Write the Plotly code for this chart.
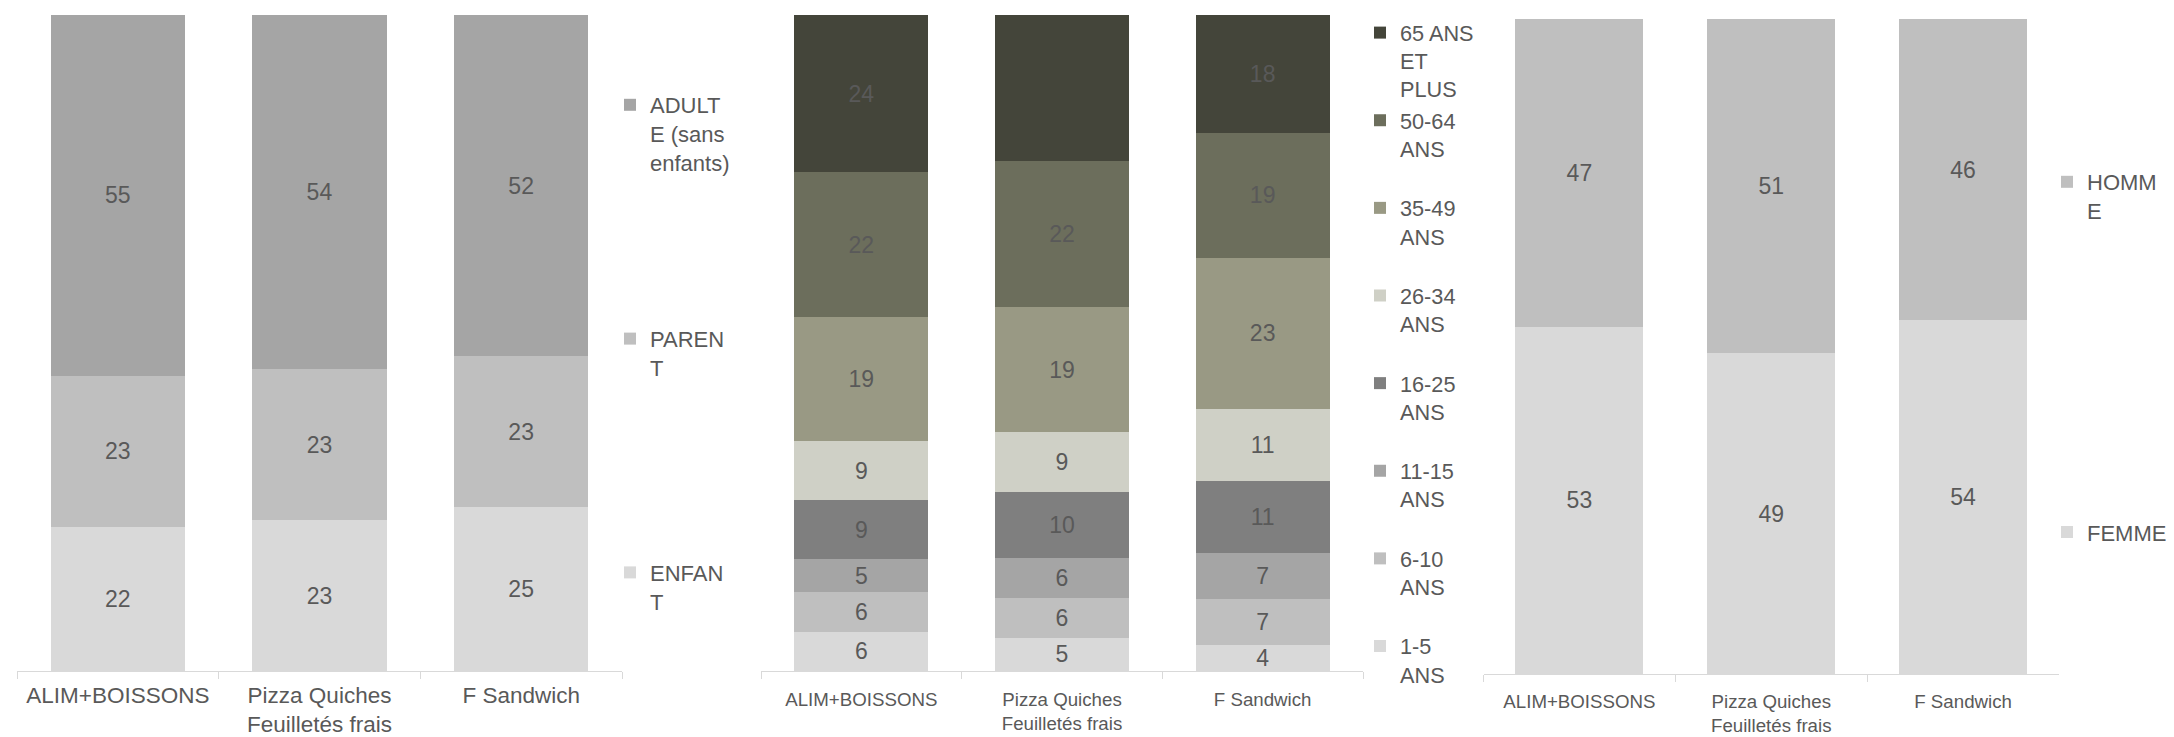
import plotly.graph_objects as go

# ---------------- data ----------------
categories = ["ALIM+BOISSONS", "Pizza Quiches<br>Feuilletés frais", "F Sandwich"]

# Panel 1 : profil foyer
enfant = [22, 23, 25]
parent = [23, 23, 23]
adulte = [55, 54, 52]
names_p1 = ["ENFAN<br>T<br>\u00a0", "PAREN<br>T<br>\u00a0", "ADULT<br>E (sans<br>enfants)"]

# Panel 2 : tranches d'âge
age_1_5 = [6, 5, 4]
age_6_10 = [6, 6, 7]
age_11_15 = [5, 6, 7]
age_16_25 = [9, 10, 11]
age_26_34 = [9, 9, 11]
age_35_49 = [19, 19, 23]
age_50_64 = [22, 22, 19]
age_65_plus = [24, 22, 18]
names_p2 = ["1-5<br>ANS<br>\u00a0", "6-10<br>ANS<br>\u00a0", "11-15<br>ANS<br>\u00a0",
            "16-25<br>ANS<br>\u00a0", "26-34<br>ANS<br>\u00a0", "35-49<br>ANS<br>\u00a0",
            "50-64<br>ANS<br>\u00a0", "65 ANS<br>ET<br>PLUS"]

# Panel 3 : sexe
femme = [53, 49, 54]
homme = [47, 51, 46]
names_p3 = ["FEMME", "HOMM<br>E"]

# ---------------- style ----------------
FONT = "Liberation Sans, Arial, sans-serif"
TXT = "#595959"
col_p1 = ["#D9D9D9", "#BFBFBF", "#A5A5A5"]
col_p2 = ["#D9D9D9", "#BFBFBF", "#A5A5A5", "#7F7F7F", "#CFD0C6", "#999984", "#6C6E5C", "#44453A"]
col_p3 = ["#D9D9D9", "#BFBFBF"]

OFF = 8  # default page body margin
W, H = 2174 - OFF, 737 - OFF

fig = go.Figure()

def add(vals, name, color, xa, ya, leg, rank):
    fig.add_trace(go.Bar(
        x=categories, y=vals, name=name, text=vals, texttemplate="%{text}",
        textposition="inside", insidetextanchor="middle", textangle=0,
        textfont=dict(size=23, color=TXT, family=FONT),
        marker=dict(color=color, line=dict(width=0)),
        xaxis=xa, yaxis=ya, legend=leg, legendgroup=f"{leg}_{rank}", legendrank=rank,
        cliponaxis=False,
    ))

for i, (v, n, c) in enumerate(zip([enfant, parent, adulte], names_p1, col_p1)):
    add(v, n, c, "x", "y", "legend", 100 - i)

p2 = [age_1_5, age_6_10, age_11_15, age_16_25, age_26_34, age_35_49, age_50_64, age_65_plus]
for i, (v, n, c) in enumerate(zip(p2, names_p2, col_p2)):
    add(v, n, c, "x2", "y2", "legend2", 100 - i)

for i, (v, n, c) in enumerate(zip([femme, homme], names_p3, col_p3)):
    add(v, n, c, "x3", "y3", "legend3", 100 - i)

def px_x(a, b):
    return [(a - OFF) / W, (b - OFF) / W]

def px_y(top, bottom):
    return [(H - (bottom - OFF)) / H, (H - (top - OFF)) / H]

def xaxis(dom, anchor, size, standoff):
    return dict(domain=dom, anchor=anchor, type="category", showline=True, linecolor="#D9D9D9",
                linewidth=1.3, ticks="outside", tickson="boundaries", ticklen=7, tickcolor="#D9D9D9",
                tickwidth=1.3, showgrid=False, zeroline=False, ticklabelstandoff=standoff,
                tickfont=dict(size=size, color=TXT, family=FONT))

def yaxis(dom, anchor):
    return dict(domain=dom, anchor=anchor, range=[0, 100], visible=False, showgrid=False)

def legend(x, y, gap, size=22):
    return dict(x=(x - OFF) / W, y=(H - (y - OFF)) / H, xanchor="left", yanchor="top",
                font=dict(size=size, color=TXT, family=FONT), traceorder="grouped",
                tracegroupgap=gap, valign="top", bgcolor="rgba(0,0,0,0)", borderwidth=0)

fig.update_layout(
    width=W, height=H,
    margin=dict(l=0, r=0, t=0, b=0, autoexpand=False),
    paper_bgcolor="white", plot_bgcolor="white",
    barmode="stack", barnorm="percent", bargap=0.333,
    uniformtext=dict(minsize=23, mode="show"),
    font=dict(family=FONT, color=TXT),
    xaxis=xaxis(px_x(17, 622), "y", 22.5, 4),
    yaxis=yaxis(px_y(15, 671), "x"),
    xaxis2=xaxis(px_x(761, 1363), "y2", 18.7, 11),
    yaxis2=yaxis(px_y(15, 671), "x2"),
    xaxis3=xaxis(px_x(1483.5, 2059), "y3", 18.7, 10),
    yaxis3=yaxis(px_y(19, 674), "x3"),
    legend=legend(610, 84, 145),
    legend2=legend(1360, 12, 0, 21.7),
    legend3=legend(2047, 161, 290),
    showlegend=True,
)

fig.write_html("out.html")
